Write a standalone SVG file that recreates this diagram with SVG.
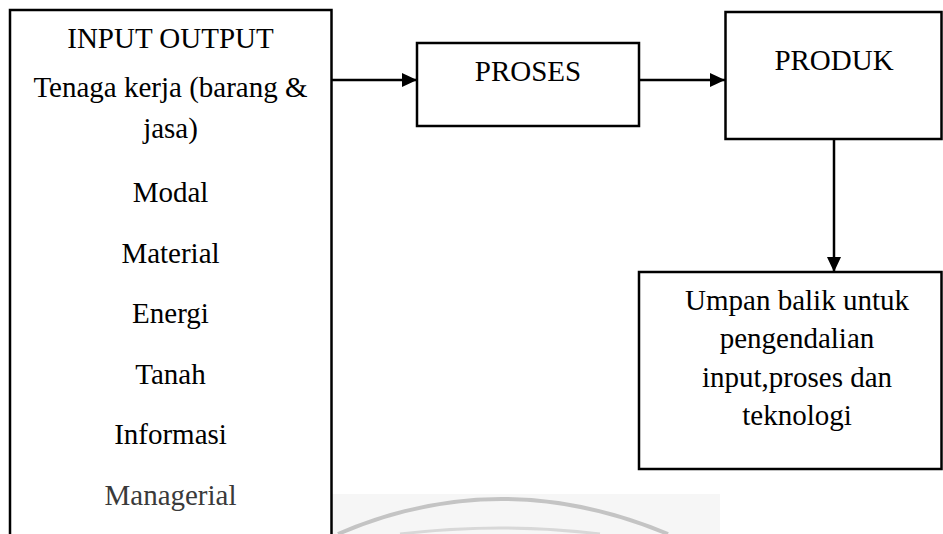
<svg xmlns="http://www.w3.org/2000/svg" width="943" height="534" viewBox="0 0 943 534">
<style>
.box{fill:#fff;stroke:#000;stroke-width:2.5}
.t{font-family:"Liberation Serif","Times New Roman",serif;font-size:29px;fill:#000;text-anchor:middle}
.c{stroke:#000;stroke-width:2.5;fill:none}
</style>
<defs>
<marker id="ah" markerWidth="15" markerHeight="14" refX="15" refY="7" orient="auto" markerUnits="userSpaceOnUse">
<path d="M0,0 L15,7 L0,14 Z" fill="#000"/>
</marker>
</defs>
<rect width="943" height="534" fill="#fff"/>
<g id="watermark">
<path d="M330,534 L330,494 L720,494 L720,534 Z" fill="#f6f6f6"/>
<path d="M338,534 Q500,464 668,534" fill="none" stroke="#c4c4c4" stroke-width="4"/>
<path d="M400,534 Q500,522 600,534" fill="none" stroke="#d8d8d8" stroke-width="3"/>
</g>
<g id="input">
<rect class="box" x="10" y="10" width="321.5" height="540"/>
<text class="t" x="170.5" y="48">INPUT OUTPUT</text>
<text class="t" x="170.5" y="97">Tenaga kerja (barang &amp;</text>
<text class="t" x="170.5" y="138">jasa)</text>
<text class="t" x="170.5" y="202">Modal</text>
<text class="t" x="170.5" y="263">Material</text>
<text class="t" x="170.5" y="323">Energi</text>
<text class="t" x="170.5" y="384">Tanah</text>
<text class="t" x="170.5" y="444">Informasi</text>
<text class="t" x="170.5" y="505" style="fill:#3a3a3a">Managerial</text>
</g>
<g id="proses">
<rect class="box" x="417" y="43" width="222" height="83"/>
<text class="t" x="528" y="81">PROSES</text>
</g>
<g id="produk">
<rect class="box" x="725.5" y="12" width="216" height="127"/>
<text class="t" x="834" y="70">PRODUK</text>
</g>
<g id="umpan">
<rect class="box" x="639" y="272" width="302.5" height="197"/>
<text class="t" x="797" y="310">Umpan balik untuk</text>
<text class="t" x="797" y="348">pengendalian</text>
<text class="t" x="797" y="387">input,proses dan</text>
<text class="t" x="797" y="425">teknologi</text>
</g>
<g id="connectors">
<line class="c" x1="332" y1="80" x2="417" y2="80" marker-end="url(#ah)"/>
<line class="c" x1="639" y1="80" x2="725" y2="80" marker-end="url(#ah)"/>
<line class="c" x1="834" y1="139" x2="834" y2="272" marker-end="url(#ah)"/>
</g>
</svg>
